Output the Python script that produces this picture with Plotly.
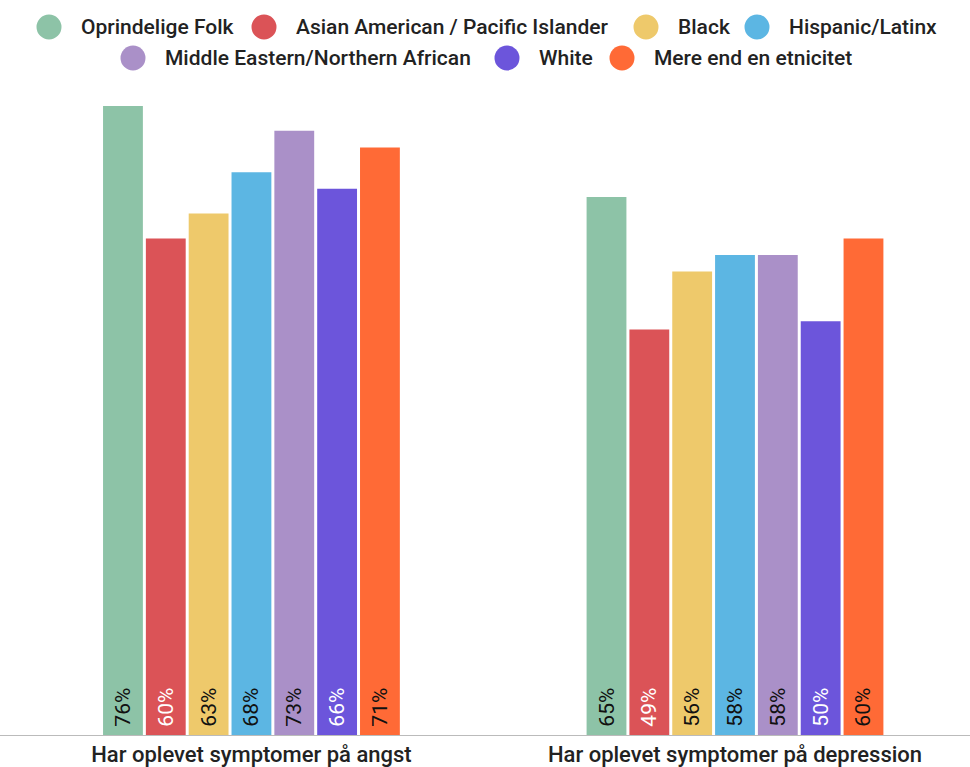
import plotly.graph_objects as go

categories = ["Har oplevet symptomer på angst", "Har oplevet symptomer på depression"]
groups = ["Oprindelige Folk", "Asian American / Pacific Islander", "Black", "Hispanic/Latinx",
          "Middle Eastern/Northern African", "White", "Mere end en etnicitet"]
anxiety = [76, 60, 63, 68, 73, 66, 71]
depression = [65, 49, 56, 58, 58, 50, 60]

colors = ["#8DC3A7", "#DB5357", "#EEC96B", "#5CB6E3", "#AA90C8", "#6C55DB", "#FF6A36"]
text_colors = ["#111111", "#FFFFFF", "#111111", "#111111", "#111111", "#FFFFFF", "#111111"]

W, H = 970, 767
M_T, M_B = 106, 32
plot_h = H - M_T - M_B

fig = go.Figure()
for i, g in enumerate(groups):
    vals = [anxiety[i], depression[i]]
    fig.add_trace(go.Bar(
        x=categories, y=vals, name=g, showlegend=False,
        marker=dict(color=colors[i], line=dict(width=0)),
        text=[f"\u2005{v}%" for v in vals], textposition="inside", insidetextanchor="start",
        textangle=-90, textfont=dict(family="Roboto", size=21, color=text_colors[i]),
        constraintext="none", cliponaxis=False,
    ))

# custom legend (big circle markers), positions in pixels
legend_pos = [(49, 27), (264, 27), (646, 27), (757, 27), (133, 58), (507, 58), (622, 58)]
shapes = []
annotations = []
for (px, py), g, c in zip(legend_pos, groups, colors):
    yp = (H - M_B - py) / plot_h
    shapes.append(dict(type="circle", xref="paper", yref="paper",
                       xsizemode="pixel", ysizemode="pixel",
                       xanchor=px / W, yanchor=yp,
                       x0=-12.5, x1=12.5, y0=-12.5, y1=12.5,
                       fillcolor=c, line=dict(width=0)))
    annotations.append(dict(xref="paper", yref="paper", x=(px + 30) / W, y=yp,
                            xanchor="left", yanchor="middle", showarrow=False,
                            text=g, font=dict(family="Roboto", size=21, color="#222222", weight=500)))

fig.update_layout(
    width=W, height=H,
    margin=dict(l=0, r=0, t=M_T, b=M_B),
    paper_bgcolor="white", plot_bgcolor="white",
    barmode="group", bargap=0.38, bargroupgap=0.07,
    shapes=shapes, annotations=annotations,
    showlegend=False,
    xaxis=dict(range=[-0.52, 1.486], showgrid=False, showline=True, linecolor="#BBBBBB",
               linewidth=1, ticks="",
               tickfont=dict(family="Roboto", size=22, color="#222222", weight=500)),
    yaxis=dict(range=[0, 76], visible=False, showgrid=False),
)

fig.write_html("out.html", config={"displayModeBar": False},
               post_script="document.body.style.margin='0';document.body.style.overflow='hidden';")
